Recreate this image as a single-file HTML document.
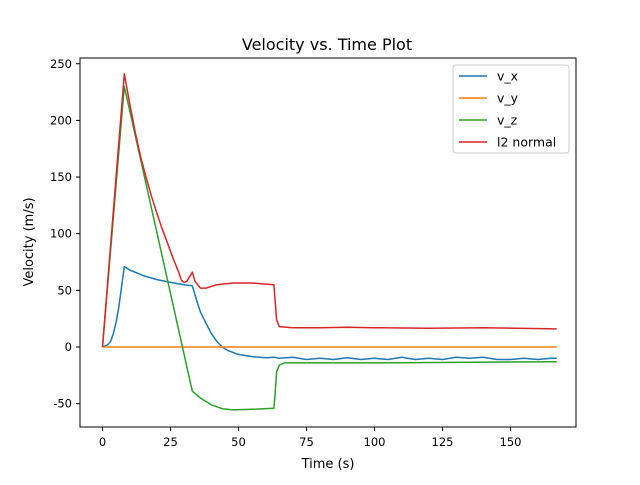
<!DOCTYPE html>
<html><head><meta charset="utf-8"><style>
body{margin:0;background:#fff;font-family:"Liberation Sans","DejaVu Sans",sans-serif}
svg text{font-family:"DejaVu Sans","Liberation Sans",sans-serif}
</style></head><body>
<svg id="chart" width="640" height="480">
<rect width="640" height="480" fill="#fff"/>
<text x="327" y="50" text-anchor="middle" font-size="16">Velocity vs. Time Plot</text>
<g id="plot"></g>
<rect x="80" y="58" width="496" height="369" fill="none" stroke="#000" stroke-width="1"/>
<g id="ticks"></g>
<text x="328" y="468" text-anchor="middle" font-size="13">Time (s)</text>
<text transform="translate(33,242) rotate(-90)" text-anchor="middle" font-size="13">Velocity (m/s)</text>
<g>
<rect x="453" y="65" width="116" height="88" rx="3" fill="#fff" fill-opacity="0.8" stroke="#ccc"/>
<g id="legend-items"></g>
</g>
</svg>
<script>
const xTicks=[0,25,50,75,100,125,150];
const yTicks=[-50,0,50,100,150,200,250];
const seriesNames=["v_x","v_y","v_z","l2 normal"];
const seriesColors=["#1f77b4","#ff7f0e","#2ca02c","#d62728"];
const vxT=[0,2,3,4,5,6,8,10,15,20,25,30,33,34,35,36,38,40,42,44,46,50,55,60,63,65,70,75,80,85,90,95,100,105,110,115,120,125,130,135,140,145,150,155,160,165,167];
const vxV=[0,2,5,12,22,35,71,68,63,59.5,57,55,54,46,38,31,21,12,5,0,-3,-6.5,-8.5,-9.5,-9,-10,-9,-11,-10,-11,-9.5,-11,-10,-11,-9,-11,-10,-11,-9,-10,-9,-11,-11,-10,-11,-10,-10];
const vyT=[0,167];
const vyV=[0,0];
const vzT=[0,8,33,36,40,44,48,55,63,63.5,64,65,67,100,167];
const vzV=[0,230,-39,-45,-51,-54.5,-55.5,-55,-54,-40,-22,-16,-14,-14,-13];
const l2T=[0,8,10,12,14,16,18,20,22,24,26,28,29,30,31,33,34,36,38,42,48,55,63,63.5,64,65,70,80,90,100,120,140,167];
const l2V=[0,241,215,190,168,150,133,118,104,91,78,66,59,57,58,66,58,52,52,55,56.5,56.5,55,40,24,18,17,17,17.5,17,16.5,17,16];
const NS="http://www.w3.org/2000/svg";
const xs=t=>102.5+t*2.72;
const ys=v=>347-v*1.133;
const plot=document.getElementById('plot');
const ticks=document.getElementById('ticks');
function mk(tag,attrs,parent){const e=document.createElementNS(NS,tag);for(const k in attrs)e.setAttribute(k,attrs[k]);parent.appendChild(e);return e;}
xTicks.forEach(t=>{
 const l=mk('line',{x1:xs(t),x2:xs(t),y1:427,y2:431,stroke:'#000'},ticks);
 
 
 const tx=mk('text',{x:xs(t),y:446,'text-anchor':'middle','font-size':'11.5'},ticks);tx.textContent=t;
 
 
});
yTicks.forEach(v=>{
 const l=mk('line',{x1:76,x2:80,y1:ys(v),y2:ys(v),stroke:'#000'},ticks);
 
 
 const tx=mk('text',{x:72,y:ys(v)+4,'text-anchor':'end','font-size':'11.5'},ticks);tx.textContent=v;
 
 
});
const data=[[vxT,vxV],[vyT,vyV],[vzT,vzV],[l2T,l2V]];
[0,1,2,3].forEach(i=>{
 const [T,V]=data[i];
 const d=T.map((t,j)=>(j?'L':'M')+xs(t).toFixed(1)+','+ys(V[j]).toFixed(1)).join('');
 const p=mk('path',{d:d,fill:'none',stroke:seriesColors[i],'stroke-width':1.5,'stroke-linejoin':'round'},plot);
 
 
});
const li=document.getElementById('legend-items');
seriesNames.forEach((n,i)=>{
 const y=76+i*22;
 const l=mk('line',{x1:459,x2:487,y1:y,y2:y,stroke:seriesColors[i],'stroke-width':1.5},li);
 
 
 const tx=mk('text',{x:497,y:y+4.5,'font-size':'12.5'},li);tx.textContent=n;
 
 
});
</script>
</body></html>
